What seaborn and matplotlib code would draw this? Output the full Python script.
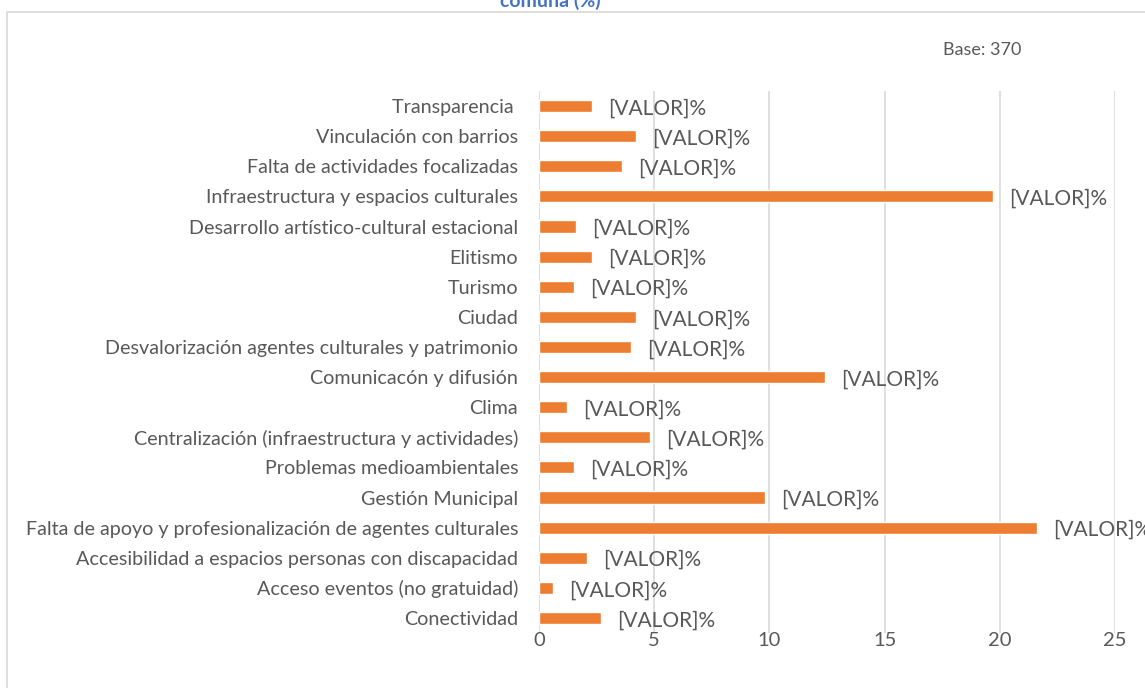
import pandas as pd
import matplotlib.pyplot as plt
import seaborn as sns
from matplotlib.patches import Rectangle

# Data (top to bottom)
categorias = [
    "Transparencia ",
    "Vinculación con barrios",
    "Falta de actividades focalizadas",
    "Infraestructura y espacios culturales",
    "Desarrollo artístico-cultural estacional",
    "Elitismo",
    "Turismo",
    "Ciudad",
    "Desvalorización agentes culturales y patrimonio",
    "Comunicacón y difusión",
    "Clima",
    "Centralización (infraestructura y actividades)",
    "Problemas medioambientales",
    "Gestión Municipal",
    "Falta de apoyo y profesionalización de agentes culturales",
    "Accesibilidad a espacios personas con discapacidad",
    "Acceso eventos (no gratuidad)",
    "Conectividad",
]
porcentajes = [2.3, 4.2, 3.6, 19.7, 1.6, 2.3, 1.5, 4.2, 4.0, 12.4,
               1.2, 4.8, 1.5, 9.8, 21.6, 2.1, 0.6, 2.7]
etiqueta = "[VALOR]%"
xticks = [0, 5, 10, 15, 20, 25]

df = pd.DataFrame({"categoria": categorias, "pct": porcentajes})

sns.set_style("white")
plt.rcParams["font.family"] = ["Lato", "DejaVu Sans"]

gris = "#595959"
fig = plt.figure(figsize=(11.45, 6.88), dpi=100)
ax = fig.add_axes([539 / 1145, 1 - 633 / 688, (1115 - 539) / 1145, (633 - 91) / 688])

sns.barplot(data=df, x="pct", y="categoria", orient="h", color="#ED7D31",
            width=0.4, saturation=1, ax=ax)

for i, v in enumerate(porcentajes):
    ax.text(v + 0.7, i + 0.08, etiqueta, va="center", ha="left",
            fontsize=15, color=gris)

ax.set_xlim(0, 25)
ax.set_ylim(len(categorias) - 0.5, -0.5)
ax.set_xticks(xticks)
ax.set_xticklabels([str(t) for t in xticks])
ax.tick_params(axis="x", labelsize=14.5, colors=gris, length=0, pad=-1)
ax.tick_params(axis="y", labelsize=14.2, colors=gris, length=0, pad=15)
ax.xaxis.grid(True, color="#D9D9D9", linewidth=1.2)
ax.set_axisbelow(True)
ax.set_xlabel("")
ax.set_ylabel("")
for s in ax.spines.values():
    s.set_visible(False)

# chart frame
fig.patches.append(Rectangle((7 / 1145, -0.1), 1.2, 1 - 12 / 688 + 0.1,
                             transform=fig.transFigure, fill=False,
                             edgecolor="#D9D9D9", linewidth=1.2))

fig.text(550 / 1145, 1 - 7 / 688, "comuna (%)", ha="center", va="baseline",
         fontsize=14, fontweight="bold", color="#4472C4")
fig.text(982 / 1145, 1 - 50 / 688, "Base: 370", ha="center", va="center",
         fontsize=13, color=gris)

fig.savefig("out.png", dpi=100)
